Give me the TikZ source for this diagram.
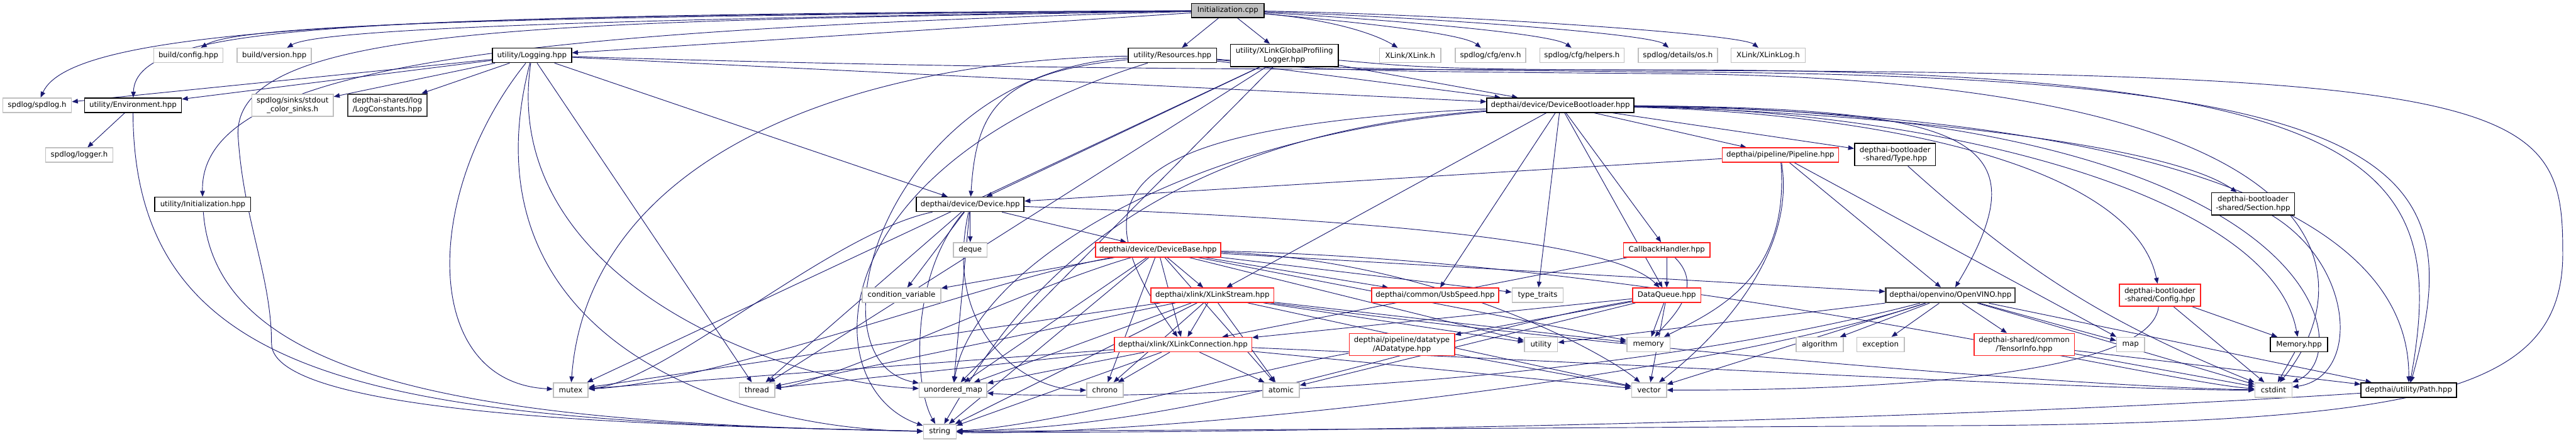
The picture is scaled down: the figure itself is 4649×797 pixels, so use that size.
\documentclass[tikz,border=0pt]{standalone}
\usepackage{fontspec}
\setmainfont{DejaVu Sans}
\usetikzlibrary{arrows.meta, backgrounds}

\definecolor{edgeblue}{HTML}{191970}
\definecolor{sysgray}{HTML}{BFBFBF}
\definecolor{cutred}{HTML}{FF2020}
\definecolor{darkline}{HTML}{404040}

\tikzset{
  hfile/.style={draw=black, fill=white, line width=0.5pt, inner sep=0pt, align=center,
    minimum height=0.26cm, font=\fontsize{3.8}{4.4}\selectfont},
  sysfile/.style={hfile, draw=sysgray},
  cutfile/.style={hfile, draw=cutred},
  keyfile/.style={hfile, draw=darkline, line width=0.75pt},
  rootfile/.style={hfile, fill=sysgray},
  tall/.style={minimum height=0.40cm},
  dep/.style={draw=edgeblue, line width=0.3pt, -{Triangle[length=3pt,width=2.4pt]}}
}

\begin{document}
\begin{tikzpicture}[x=0.01cm, y=0.01cm]
  \useasboundingbox (0,0) rectangle (4649,-797);

  % top rows
  \node[rootfile, minimum width=1.31cm] (init) at (2216,-19) {Initialization.cpp};
  \node[hfile, minimum width=1.59cm] (res) at (2116,-100) {utility/Resources.hpp};
  \node[hfile, tall, minimum width=1.95cm] (xgpl) at (2318,-100) {utility/XLinkGlobalProfiling\\Logger.hpp};
  \node[sysfile, minimum width=1.11cm] (xlink) at (2545,-100) {XLink/XLink.h};
  \node[sysfile, minimum width=1.27cm] (cfgenv) at (2690,-100) {spdlog/cfg/env.h};
  \node[sysfile, minimum width=1.52cm] (cfghelpers) at (2855,-100) {spdlog/cfg/helpers.h};
  \node[sysfile, minimum width=1.43cm] (detailsos) at (3028,-100) {spdlog/details/os.h};
  \node[sysfile, minimum width=1.34cm] (xlinklog) at (3191,-100) {XLink/XLinkLog.h};
  \node[sysfile, minimum width=1.25cm] (config) at (340,-100) {build/config.hpp};
  \node[sysfile, minimum width=1.34cm] (version) at (495,-100) {build/version.hpp};
  \node[hfile, minimum width=1.43cm] (logging) at (960,-100) {utility/Logging.hpp};
  \node[sysfile, minimum width=1.24cm] (spdlog) at (67,-190) {spdlog/spdlog.h};
  \node[hfile, minimum width=1.75cm] (environ) at (240,-190) {utility/Environment.hpp};
  \node[sysfile, tall, minimum width=1.47cm] (stdout) at (528,-190) {spdlog/sinks/stdout\\\_color\_sinks.h};
  \node[keyfile, tall, minimum width=1.43cm] (logconst) at (699,-190) {depthai-shared/log\\/LogConstants.hpp};
  \node[hfile, minimum width=2.65cm] (devboot) at (2816,-190) {depthai/device/DeviceBootloader.hpp};
  \node[sysfile, minimum width=1.21cm] (logger) at (143,-280) {spdlog/logger.h};
  \node[cutfile, minimum width=2.10cm] (pipeline) at (3213,-280) {depthai/pipeline/Pipeline.hpp};
  \node[hfile, tall, minimum width=1.46cm] (btype) at (3420,-279) {depthai-bootloader\\-shared/Type.hpp};
  \node[hfile, minimum width=1.73cm] (inithpp) at (366,-369) {utility/Initialization.hpp};
  \node[hfile, minimum width=1.94cm] (device) at (1751,-369) {depthai/device/Device.hpp};
  \node[hfile, tall, minimum width=1.50cm] (bsection) at (4066,-368) {depthai-bootloader\\-shared/Section.hpp};

  % middle rows
  \node[sysfile, minimum width=0.61cm] (deque) at (1751,-451) {deque};
  \node[cutfile, minimum width=2.26cm] (devbase) at (2090,-451) {depthai/device/DeviceBase.hpp};
  \node[cutfile, minimum width=1.56cm] (cbhandler) at (3008,-451) {CallbackHandler.hpp};
  \node[sysfile, minimum width=1.42cm] (condvar) at (1627,-533) {condition\_variable};
  \node[cutfile, minimum width=2.22cm] (xstream) at (2188,-533) {depthai/xlink/XLinkStream.hpp};
  \node[cutfile, minimum width=2.29cm] (usbspeed) at (2590,-533) {depthai/common/UsbSpeed.hpp};
  \node[sysfile, minimum width=0.92cm] (typetraits) at (2775,-533) {type\_traits};
  \node[cutfile, minimum width=1.23cm] (dqueue) at (3008,-533) {DataQueue.hpp};
  \node[keyfile, minimum width=2.33cm] (openvino) at (3520,-533) {depthai/openvino/OpenVINO.hpp};
  \node[cutfile, tall, minimum width=1.46cm] (bconfig) at (3898,-533) {depthai-bootloader\\-shared/Config.hpp};
  \node[cutfile, minimum width=2.48cm] (xconn) at (2135,-622) {depthai/xlink/XLinkConnection.hpp};
  \node[cutfile, tall, minimum width=1.90cm] (adatatype) at (2530,-622) {depthai/pipeline/datatype\\/ADatatype.hpp};
  \node[sysfile, minimum width=0.60cm] (utility) at (2781,-622) {utility};
  \node[sysfile, minimum width=0.78cm] (memory) at (2975,-622) {memory};
  \node[sysfile, minimum width=0.85cm] (algorithm) at (3284,-622) {algorithm};
  \node[sysfile, minimum width=0.86cm] (exception) at (3394,-622) {exception};
  \node[cutfile, tall, minimum width=1.81cm] (tensorinfo) at (3653,-622) {depthai-shared/common\\/TensorInfo.hpp};
  \node[sysfile, minimum width=0.50cm] (map) at (3845,-622) {map};
  \node[hfile, minimum width=1.03cm] (memhpp) at (4149,-622) {Memory.hpp};

  % bottom rows
  \node[sysfile, minimum width=0.63cm] (mutex) at (1030,-704) {mutex};
  \node[sysfile, minimum width=0.64cm] (thread) at (1366,-704) {thread};
  \node[sysfile, minimum width=1.22cm] (umap) at (1720,-704) {unordered\_map};
  \node[sysfile, minimum width=0.66cm] (chrono) at (1994,-704) {chrono};
  \node[sysfile, minimum width=0.66cm] (atomic) at (2312,-704) {atomic};
  \node[sysfile, minimum width=0.63cm] (vector) at (2976,-704) {vector};
  \node[sysfile, minimum width=0.67cm] (cstdint) at (4103,-704) {cstdint};
  \node[hfile, minimum width=1.72cm] (path) at (4347,-704) {depthai/utility/Path.hpp};
  \node[sysfile, minimum width=0.59cm] (string) at (1696,-779) {string};

  \begin{scope}[on background layer]
    \fill[white] (0,0) rectangle (4649,-797);
    % straight includes
    \foreach \a/\b in {init/res, init/xgpl, init/logging, logging/spdlog, logging/environ,
        logging/stdout, logging/logconst, logging/device, logging/thread, logging/devboot,
        environ/logger, res/devboot, xgpl/device, xgpl/devboot, xgpl/thread, xgpl/mutex, xgpl/umap,
        device/deque, device/devbase, device/condvar, device/thread, device/umap,
        devbase/xstream, devbase/condvar, devbase/usbspeed, devbase/typetraits, devbase/openvino,
        devbase/utility, devbase/memory, devbase/chrono, devbase/atomic, devbase/umap,
        devbase/xconn, devbase/string,
        xstream/xconn, xstream/thread, xstream/umap, xstream/string, xstream/memory,
        xstream/utility, xstream/atomic, xstream/chrono, xstream/vector, xstream/mutex,
        xconn/thread, xconn/umap, xconn/chrono, xconn/atomic, xconn/vector, xconn/mutex, xconn/string,
        cbhandler/dqueue, cbhandler/xconn, dqueue/adatatype, dqueue/memory, dqueue/xconn,
        dqueue/vector, dqueue/atomic, adatatype/vector,
        devboot/pipeline, devboot/btype, devboot/xstream, devboot/usbspeed, devboot/typetraits,
        devboot/cbhandler, devboot/dqueue,
        pipeline/device, pipeline/openvino, pipeline/map, bconfig/memhpp, bconfig/cstdint,
        memhpp/cstdint, tensorinfo/cstdint, tensorinfo/path, openvino/tensorinfo,
        openvino/algorithm, openvino/exception, openvino/map, openvino/utility, openvino/vector,
        openvino/cstdint, openvino/path}
      \draw[dep] (\a) -- (\b);
    % Initialization.cpp fan
    \draw[dep] (init) .. controls (2400,-35) and (2480,-60) .. (xlink);
    \draw[dep] (init) .. controls (2450,-40) and (2640,-60) .. (cfgenv);
    \draw[dep] (init) .. controls (2500,-35) and (2800,-60) .. (cfghelpers);
    \draw[dep] (init) .. controls (2550,-30) and (2980,-60) .. (detailsos);
    \draw[dep] (init) .. controls (2600,-25) and (3140,-60) .. (xlinklog);
    \draw[dep] (init) .. controls (900,-30) and (430,-45) .. (config);
    \draw[dep] (init) .. controls (1000,-35) and (570,-55) .. (version);
    \draw[dep] (init) .. controls (700,-25) and (130,-50) .. (spdlog);
    \draw[dep] (init) .. controls (650,-30) and (245,-40) .. (environ);
    \draw[dep] (init) .. controls (900,-55) and (360,-120) .. (inithpp);
    \draw[dep] (init) .. controls (1000,-40) and (410,-40) .. (430,-250)
      .. controls (440,-400) and (490,-500) .. (490,-620)
      .. controls (490,-760) and (1300,-770) .. (string);
    % left side
    \draw[dep] (environ) .. controls (242,-700) and (700,-760) .. (string);
    \draw[dep] (inithpp) .. controls (390,-700) and (900,-765) .. (string);
    \draw[dep] (logging) .. controls (760,-350) and (760,-690) .. (mutex);
    \draw[dep] (logging) .. controls (830,-600) and (1300,-775) .. (string);
    \draw[dep] (logging) .. controls (900,-500) and (1400,-690) .. (umap);
    \draw[dep] (res) .. controls (1800,-130) and (1762,-200) .. (device);
    \draw[dep] (res) .. controls (1500,-110) and (1060,-300) .. (mutex);
    \draw[dep] (res) .. controls (1600,-130) and (1450,-650) .. (umap);
    \draw[dep] (res) .. controls (1470,-300) and (1470,-700) .. (string);
    \draw[dep] (device) .. controls (1500,-420) and (1200,-690) .. (mutex);
    \draw[dep] (device) .. controls (1700,-600) and (1850,-705) .. (chrono);
    \draw[dep] (device) .. controls (2300,-390) and (2900,-420) .. (dqueue);
    \draw[dep] (device) .. controls (1640,-500) and (1650,-700) .. (string);
    \draw[dep] (devbase) .. controls (1800,-500) and (1300,-690) .. (mutex);
    \draw[dep] (devbase) .. controls (1850,-520) and (1500,-690) .. (thread);
    % right side
    \draw[dep] (devbase) .. controls (2600,-470) and (2900,-640) .. (vector);
    \draw[dep] (devbase) .. controls (3000,-470) and (3900,-690) .. (cstdint);
    \draw[dep] (xstream) .. controls (3000,-640) and (3800,-700) .. (cstdint);
    \draw[dep] (xconn) .. controls (3000,-660) and (3800,-705) .. (cstdint);
    \draw[dep] (cbhandler) .. controls (3080,-520) and (3010,-580) .. (memory);
    \draw[dep] (dqueue) .. controls (2600,-600) and (2200,-770) .. (string);
    \draw[dep] (adatatype) .. controls (2300,-660) and (1900,-770) .. (string);
    \draw[dep] (devboot) .. controls (3300,-200) and (3900,-250) .. (bsection);
    \draw[dep] (devboot) .. controls (3400,-205) and (3850,-300) .. (bconfig);
    \draw[dep] (devboot) .. controls (3500,-200) and (4100,-350) .. (memhpp);
    \draw[dep] (devboot) .. controls (2000,-230) and (1940,-350) .. (xconn);
    \draw[dep] (devboot) .. controls (2000,-250) and (1800,-600) .. (string);
    \draw[dep] (devboot) .. controls (2100,-250) and (1750,-500) .. (umap);
    \draw[dep] (devboot) .. controls (3600,-200) and (4350,-300) .. (path);
    \draw[dep] (devboot) .. controls (3560,-195) and (3690,-250) .. (openvino);
    \draw[dep] (devboot) .. controls (4200,-200) and (4260,-640) .. (cstdint);
    \draw[dep] (pipeline) .. controls (3230,-500) and (3100,-560) .. (memory);
    \draw[dep] (pipeline) .. controls (3245,-480) and (3060,-640) .. (vector);
    \draw[dep] (openvino) .. controls (3000,-700) and (2000,-790) .. (string);
    \draw[dep] (openvino) .. controls (2800,-720) and (1900,-720) .. (umap);
    \draw[dep] (bconfig) .. controls (3880,-690) and (3300,-705) .. (vector);
    \draw[dep] (path) .. controls (3500,-760) and (2200,-785) .. (string);
    \draw[dep] (btype) to[bend right=10] (cstdint);
    \draw[dep] (bsection) .. controls (4250,-480) and (4260,-680) .. (cstdint);
    % long bundle below the top row, turning down at the right
    \draw[dep] (logging) .. controls (1800,-125) and (2300,-126) .. (3000,-126)
      .. controls (4300,-126) and (4420,-300) .. (path);
    \draw[dep] (res) .. controls (2400,-124) .. (3000,-130)
      .. controls (4350,-134) and (4460,-300) .. (path);
    \draw[dep] (res) .. controls (2400,-128) .. (3000,-133)
      .. controls (4250,-140) and (4270,-500) .. (cstdint);
    \draw[dep] (xgpl) .. controls (2600,-125) .. (3200,-128)
      .. controls (4550,-135) and (4625,-200) .. (4625,-450)
      .. controls (4630,-700) and (4400,-760) .. (3600,-768) -- (string);
  \end{scope}
\end{tikzpicture}
\end{document}
